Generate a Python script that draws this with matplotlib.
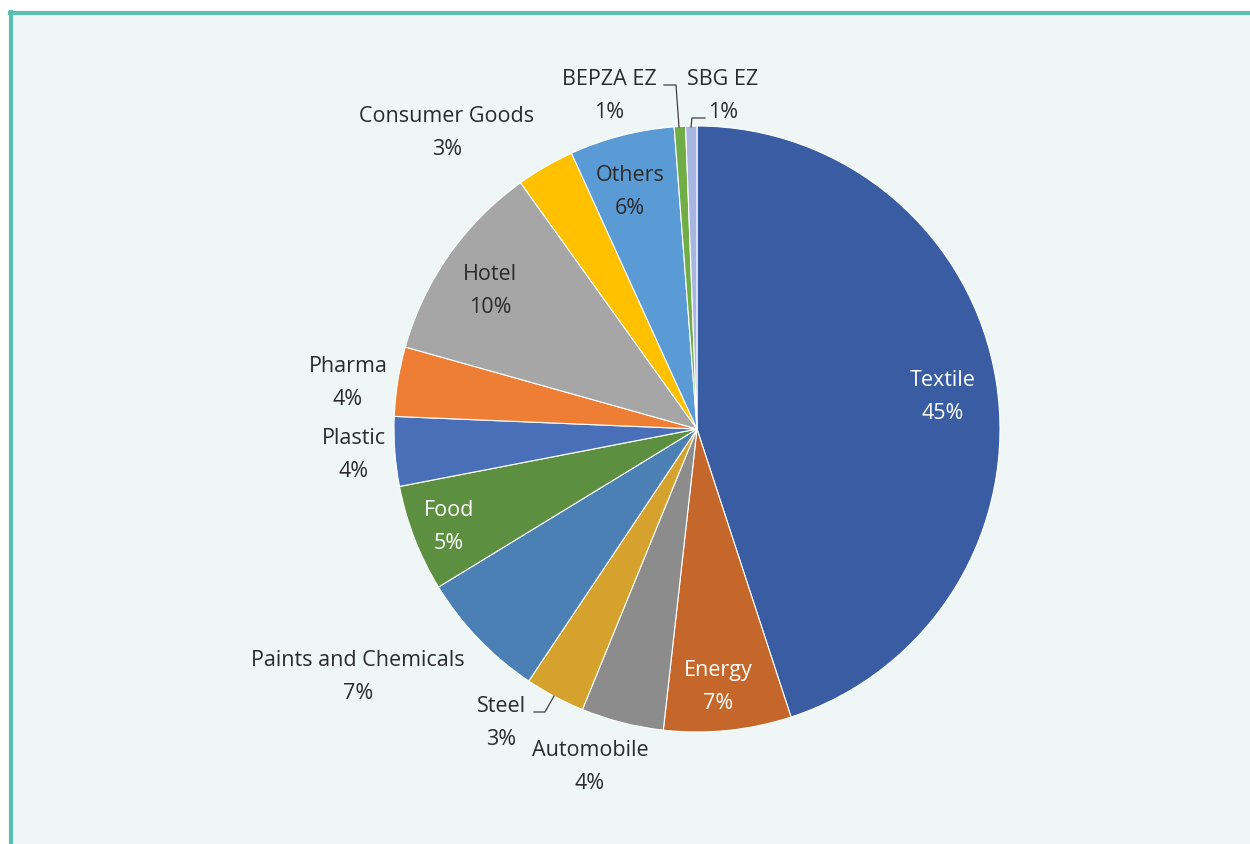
import matplotlib
matplotlib.use("Agg")
import matplotlib.pyplot as plt
from matplotlib.patches import Rectangle
from matplotlib.lines import Line2D

categories = ["Textile", "Energy", "Automobile", "Steel", "Paints and Chemicals", "Food",
              "Plastic", "Pharma", "Hotel", "Consumer Goods", "Others", "BEPZA EZ", "SBG EZ"]
values = [45.0, 6.8, 4.4, 3.2, 6.9, 5.7, 3.7, 3.7, 10.75, 3.1, 5.6, 0.6, 0.6]
pct_labels = ["45%", "7%", "4%", "3%", "7%", "5%", "4%", "4%", "10%", "3%", "6%", "1%", "1%"]
colors = ["#3A5CA2", "#C5662B", "#8C8C8C", "#D5A22D", "#4A80B3", "#5C8F3F",
          "#4A6FB9", "#EE7E33", "#A6A6A6", "#FFC000", "#5B9BD5", "#70AD47", "#A8B5E0"]
text_white = [True, True, False, False, False, True, False, False, False, False, False, False, False]

# label anchor positions (pixel coords of the text block centre)
label_pos = [(943, 397), (718, 687), (590, 767), (501, 723), (358, 677), (449, 527),
             (354, 455), (348, 383), (490, 291), (447, 133), (630, 192), (609, 96), (723, 96)]

W, H = 1250, 845
fig = plt.figure(figsize=(W / 100, H / 100), dpi=100)
fig.patch.set_facecolor("white")
ax = fig.add_axes([0, 0, 1, 1])

# pie: y-axis is inverted afterwards, so counterclock=True appears clockwise
wedges, _ = ax.pie(values, colors=colors, startangle=-90, counterclock=True,
                   center=(697, 430), radius=303, frame=True,
                   wedgeprops=dict(edgecolor="white", linewidth=0.8))
ax.set_xlim(0, W)
ax.set_ylim(H, 0)
ax.set_aspect("equal")
ax.axis("off")

# panel background and border
ax.add_patch(Rectangle((10, 13), W, H, facecolor="#EEF7F5", edgecolor="none", zorder=0))
ax.add_line(Line2D([10.5, 10.5], [13, H], color="#5BBFB0", lw=3, zorder=1))
ax.add_line(Line2D([10, W], [13.5, 13.5], color="#5BBFB0", lw=3, zorder=1))

font = "Open Sans"
for name, pct, (x, y), white in zip(categories, pct_labels, label_pos, text_white):
    ax.text(x, y, f"{name}\n{pct}", ha="center", va="center", fontsize=15.5,
            family=font, color="white" if white else "#2B2B2B", linespacing=1.7, zorder=5)

# leader lines
lc = "#404040"
ax.add_line(Line2D([534, 545, 554], [713, 713, 697], color=lc, lw=0.9, zorder=4))
ax.add_line(Line2D([664, 676, 679], [86, 86, 128], color=lc, lw=0.9, zorder=4))
ax.add_line(Line2D([705, 692, 691], [119, 119, 128], color=lc, lw=0.9, zorder=4))

fig.savefig("out.png", dpi=100, facecolor="white")
